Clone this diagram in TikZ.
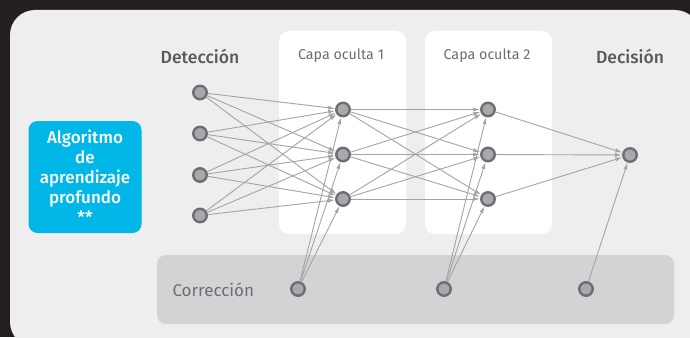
\documentclass[tikz,border=0pt]{standalone}
\usepackage{fontspec}
\setmainfont{Fira Sans}
\newfontfamily\lightfont{Fira Sans}[UprightFont={* Light}]
\newfontfamily\medfont{Fira Sans}[UprightFont={* Medium}]
\usetikzlibrary{arrows.meta}
\definecolor{darkbg}{HTML}{231F20}
\definecolor{panel}{HTML}{EEEEEE}
\definecolor{graybox}{HTML}{D1D3D4}
\definecolor{bluebox}{HTML}{00B7E8}
\definecolor{nodefill}{HTML}{A7A9AC}
\definecolor{nodeline}{HTML}{6D6E71}
\definecolor{edgecol}{HTML}{A2A4A7}
\definecolor{labeldark}{HTML}{58595B}
\definecolor{labelmid}{HTML}{6D6E71}
\tikzset{
  neuron/.style={circle, fill=nodefill, draw=nodeline, line width=2.4pt, minimum size=13.5pt, inner sep=0pt},
  edge/.style={draw=edgecol, line width=0.9pt, -{Latex[length=7pt,width=4pt]}},
  headbold/.style={text=labeldark, font=\medfont\fontsize{17.5}{20}\selectfont, anchor=center},
  headlight/.style={text=labelmid, font=\fontsize{14.3}{18}\selectfont, anchor=center},
  algobox/.style={fill=bluebox, rounded corners=9pt, minimum width=113pt, minimum height=112pt, text=white, align=center, font=\medfont\fontsize{17}{20}\selectfont},
}
\begin{document}
\begin{tikzpicture}[x=1pt,y=-1pt]
\useasboundingbox (0,0) rectangle (690,337);
\clip (0,0) rectangle (690,337);
\fill[darkbg] (0,0) rectangle (690,337);
\fill[panel, rounded corners=25pt] (10,10) rectangle (700,347);
\fill[white, rounded corners=10pt] (279,31) rectangle (406,234);
\fill[white, rounded corners=10pt] (425,31) rectangle (552,234);
\fill[graybox, rounded corners=9pt] (157,255) rectangle (674,324);

\node[algobox] (algo) at (85,177) {Algoritmo\\de\\aprendizaje\\profundo\\**};

\node[headbold] (lDet) at (200,56) {Detección};
\node[headlight] (lC1) at (341,56) {Capa oculta 1};
\node[headlight] (lC2) at (487,56) {Capa oculta 2};
\node[headbold] (lDec) at (630,56) {Decisión};
\node[headlight, anchor=west, font=\fontsize{17}{20}\selectfont] (lCor) at (169,290) {Corrección};

\node[neuron] (d1) at (200,92.5) {};
\node[neuron] (d2) at (200,133.5) {};
\node[neuron] (d3) at (200,175) {};
\node[neuron] (d4) at (200,215.5) {};
\node[neuron] (h1) at (343,109.5) {};
\node[neuron] (h2) at (343,154.5) {};
\node[neuron] (h3) at (343,199) {};
\node[neuron] (g1) at (488,109.5) {};
\node[neuron] (g2) at (488,154.5) {};
\node[neuron] (g3) at (488,199) {};
\node[neuron] (o) at (630,155) {};
\node[neuron] (c1) at (298,289) {};
\node[neuron] (c2) at (444,289) {};
\node[neuron] (c3) at (586,289) {};

\foreach \a in {d1,d2,d3,d4}{\foreach \b in {h1,h2,h3}{\draw[edge] (\a) -- (\b);}}
\foreach \a in {h1,h2,h3}{\foreach \b in {g1,g2,g3}{\draw[edge] (\a) -- (\b);}}
\foreach \a in {g1,g2,g3}{\draw[edge] (\a) -- (o);}
\foreach \b in {h1,h2,h3}{\draw[edge] (c1) -- (\b);}
\foreach \b in {g1,g2,g3}{\draw[edge] (c2) -- (\b);}
\draw[edge] (c3) -- (o);
\end{tikzpicture}
\end{document}
